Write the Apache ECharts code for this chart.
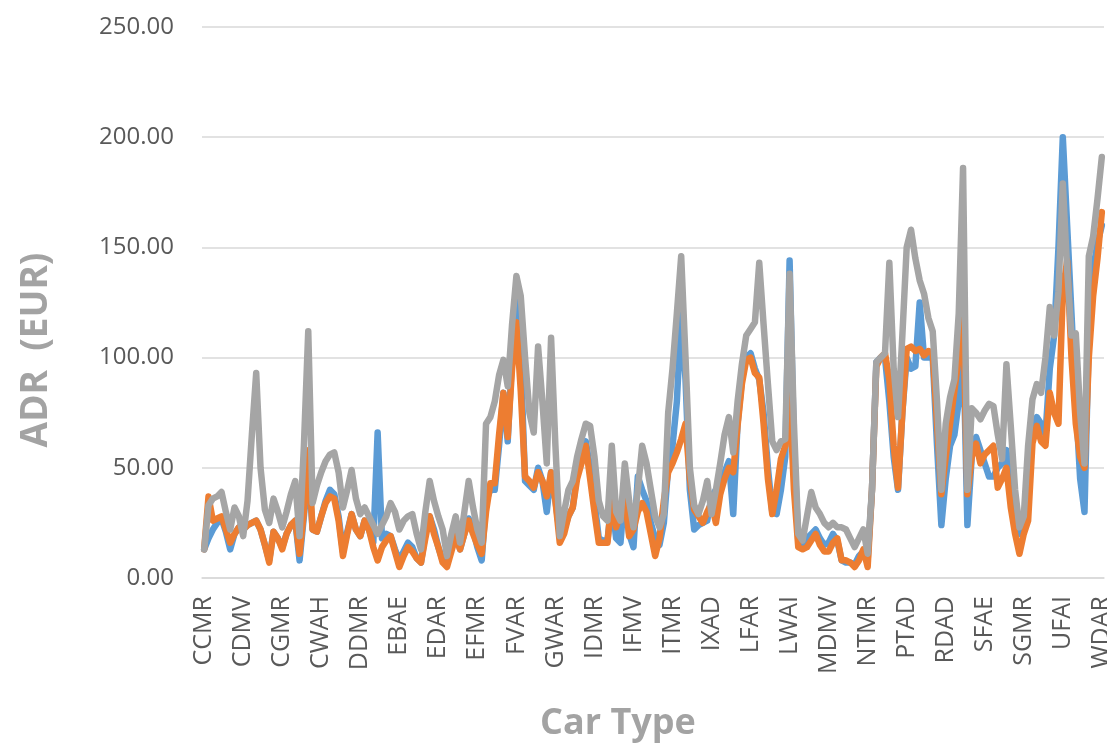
<!DOCTYPE html>
<html>
<head>
<meta charset="utf-8">
<script src="https://cdn.jsdelivr.net/npm/echarts@6/dist/echarts.min.js"></script>
<style>
html,body{margin:0;padding:0;background:#fff;}
#chart{width:1107px;height:744px;}
</style>
</head>
<body>
<div id="chart"></div>
<script>
// Car type categories (only every 9th is labelled on the axis)
const categories = [
 'CCMR','CCMV','CDAD','CDAE','CDAH','CDAR','CDMA','CDMD','CDMR',
 'CDMV','CFAR','CFMR','CFMV','CGAD','CGAE','CGAR','CGMA','CGMD',
 'CGMR','CGMV','CLAR','CLMR','CPMR','CTAR','CTMR','CWAD','CWAE',
 'CWAH','CWAR','CWMD','CWMR','DBAR','DBMR','DCAR','DCMR','DDAR',
 'DDMR','DFAR','DFMR','DGAR','DGMR','DLMR','DTMR','DWMR','EBAD',
 'EBAE','EBAR','EBMD','EBMR','ECAR','ECMD','ECMR','EDAD','EDAE',
 'EDAR','EDAV','EDMD','EDMR','EDMV','EFAD','EFAE','EFAR','EFMD',
 'EFMR','EFMV','EGAR','EWAR','FDAR','FDMR','FFAR','FFMR','FVAE',
 'FVAR','FVMR','FWAR','GDAR','GDMR','GFAR','GFMR','GVAR','GWAE',
 'GWAR','GWMR','HDAR','HDMR','ICAR','ICMR','IDAD','IDAE','IDAR',
 'IDMR','IDMV','IFAD','IFAE','IFAH','IFAR','IFAV','IFMD','IFMR',
 'IFMV','IGAR','IGMR','IJAR','IPAR','IPMR','ITAD','ITAR','ITMD',
 'ITMR','IVAR','IVMR','IWAD','IWAE','IWAR','IWMR','IWMV','IXAA',
 'IXAD','IXAR','IXMR','JFAR','JFMR','LDAR','LDMR','LFAD','LFAE',
 'LFAR','LFBR','LFMR','LGAR','LPAR','LTAR','LVAR','LWAD','LWAE',
 'LWAI','LWAR','LWMR','MBMR','MCAR','MCMR','MDAR','MDMD','MDMR',
 'MDMV','MGMR','MTMR','MVMR','NBMR','NDMR','NFMR','NGMR','NTAR',
 'NTMR','PDAR','PFAR','PGAR','PPAR','PPMR','PRAR','PTAA','PTAC',
 'PTAD','PTAR','PVAR','PWAR','PXAR','RBAR','RCAR','RDAA','RDAC',
 'RDAD','RDAR','RFAR','RGAR','RVAR','RWAR','SDAR','SDMR','SFAD',
 'SFAE','SFAR','SFBR','SFMR','SFMV','SGAD','SGAE','SGAR','SGMD',
 'SGMR','SPAR','STAR','SVAR','SVMR','SWAR','UDAR','UFAD','UFAE',
 'UFAI','UFAR','UGAR','UVAR','UWAR','VDAR','VFAR','WDAA','WDAD',
 'WDAR'
];

// ADR values (EUR) per series
const blueSeries = [
 13,18,22,25,27,21,13,20,23,
 22,24,25,26,22,15,8,21,18,
 14,20,24,26,8,28,50,22,21,
 28,35,40,38,28,12,21,29,22,
 19,26,22,16,66,18,20,19,13,
 8,12,16,14,9,7,20,28,22,
 14,8,7,14,21,13,20,27,22,
 14,8,35,40,40,60,84,62,100,
 128,100,44,42,40,50,44,30,48,
 35,20,22,28,32,48,55,62,50,
 35,18,17,17,35,18,16,40,20,
 14,46,40,35,25,18,15,25,50,
 60,80,120,90,40,22,24,25,26,
 37,40,42,48,53,29,70,90,100,
 102,95,90,75,50,30,29,40,55,
 144,60,17,15,18,20,22,18,15,
 16,20,17,8,7,7,6,10,12,
 8,40,98,100,100,80,55,40,75,
 100,95,96,125,100,100,100,60,24,
 45,60,65,80,110,24,55,64,58,
 52,46,46,50,52,58,40,28,20,
 22,35,69,73,70,65,95,110,150,
 200,160,120,80,45,30,110,140,152,
 160
];
const orangeSeries = [
 13,37,26,27,28,22,16,20,23,
 22,24,25,26,22,15,7,21,18,
 13,20,24,26,11,30,58,22,21,
 28,34,37,36,26,10,20,29,22,
 19,26,22,14,8,14,17,19,12,
 5,10,14,12,9,7,18,28,20,
 14,7,5,12,19,13,20,26,20,
 15,11,30,43,43,65,84,64,95,
 116,85,46,44,41,48,44,37,48,
 35,16,20,28,32,45,52,60,45,
 30,16,16,16,37,23,30,37,19,
 22,30,34,30,20,10,18,35,48,
 52,57,63,70,45,31,28,25,30,
 34,25,38,45,50,48,69,88,99,
 100,93,91,70,45,29,40,54,60,
 85,40,14,13,14,17,20,15,12,
 12,16,18,8,8,7,5,8,13,
 5,40,96,100,102,90,60,41,75,
 104,105,103,104,101,103,102,70,38,
 55,70,85,100,120,38,55,61,52,
 56,58,60,41,45,50,32,20,11,
 20,26,61,69,62,60,84,75,70,
 130,144,100,70,55,50,100,128,145,
 166
];
const graySeries = [
 13,33,36,37,39,30,22,32,28,
 19,35,65,93,50,31,25,36,30,
 23,30,38,44,19,60,112,34,42,
 48,53,56,57,48,32,40,49,36,
 29,32,28,24,20,24,28,34,30,
 22,26,28,29,20,13,30,44,35,
 28,22,10,20,28,16,30,44,32,
 22,16,70,73,80,92,99,87,115,
 137,128,100,75,66,105,80,52,109,
 60,19,30,40,44,55,63,70,69,
 55,35,28,26,60,30,26,52,35,
 23,40,60,52,40,28,23,29,75,
 95,120,146,100,50,33,29,35,44,
 29,40,52,65,73,57,80,97,110,
 113,116,143,115,88,62,58,62,63,
 138,70,20,17,28,39,32,29,25,
 23,25,23,23,22,18,14,18,22,
 11,40,98,100,102,143,95,73,110,
 150,158,145,135,129,118,112,80,40,
 70,82,90,120,186,40,77,75,72,
 76,79,78,65,54,97,69,40,23,
 28,60,81,88,84,100,123,110,130,
 179,140,110,111,75,52,146,155,172,
 191
];

const yTicks = { min: 0, max: 250, step: 50 };
const axisTitles = { x: 'Car Type', y: 'ADR  (EUR)' };

const FONT = "'Open Sans', 'Noto Sans', sans-serif";
const TITLE_COLOR = '#a3a3a3';
const chart = echarts.init(document.getElementById('chart'), null, { renderer: 'canvas' });

function lineSeries(name, data, color) {
  return {
    name: name, type: 'line', data: data,
    showSymbol: false, symbol: 'none', smooth: false,
    lineStyle: { color: color, width: 6.5, cap: 'round', join: 'round' },
    itemStyle: { color: color },
    emphasis: { disabled: true }
  };
}

chart.setOption({
  animation: false,
  backgroundColor: '#ffffff',
  grid: { left: 202, right: 3, top: 27, bottom: 166, containLabel: false, outerBoundsMode: 'none' },
  xAxis: {
    type: 'category',
    data: categories,
    boundaryGap: true,
    axisLine: { show: true, lineStyle: { color: '#d9d9d9', width: 1.5 } },
    axisTick: { show: false },
    axisLabel: {
      interval: 8, rotate: 90, margin: 18,
      fontSize: 25, color: '#595959', fontFamily: FONT
    }
  },
  yAxis: {
    type: 'value',
    min: yTicks.min, max: yTicks.max, interval: yTicks.step,
    axisLine: { show: false },
    axisTick: { show: false },
    splitLine: { lineStyle: { color: '#d9d9d9', width: 1.5 } },
    axisLabel: {
      margin: 28, fontSize: 24, color: '#595959', fontFamily: FONT,
      formatter: function (v) { return v.toFixed(2); }
    }
  },
  graphic: [
    {
      type: 'text', x: 618, y: 724,
      style: {
        text: axisTitles.x, fill: TITLE_COLOR,
        font: "bold 36px 'Open Sans', 'Noto Sans', sans-serif",
        textAlign: 'center', textVerticalAlign: 'middle'
      }
    },
    {
      type: 'text', x: 36, y: 350, rotation: Math.PI / 2,
      style: {
        text: axisTitles.y, fill: TITLE_COLOR,
        font: "bold 37px 'Open Sans', 'Noto Sans', sans-serif",
        textAlign: 'center', textVerticalAlign: 'middle'
      }
    }
  ],
  series: [
    lineSeries('Series 1', blueSeries, '#5B9BD5'),
    lineSeries('Series 2', orangeSeries, '#ED7D31'),
    lineSeries('Series 3', graySeries, '#A5A5A5')
  ]
});
</script>
</body>
</html>
